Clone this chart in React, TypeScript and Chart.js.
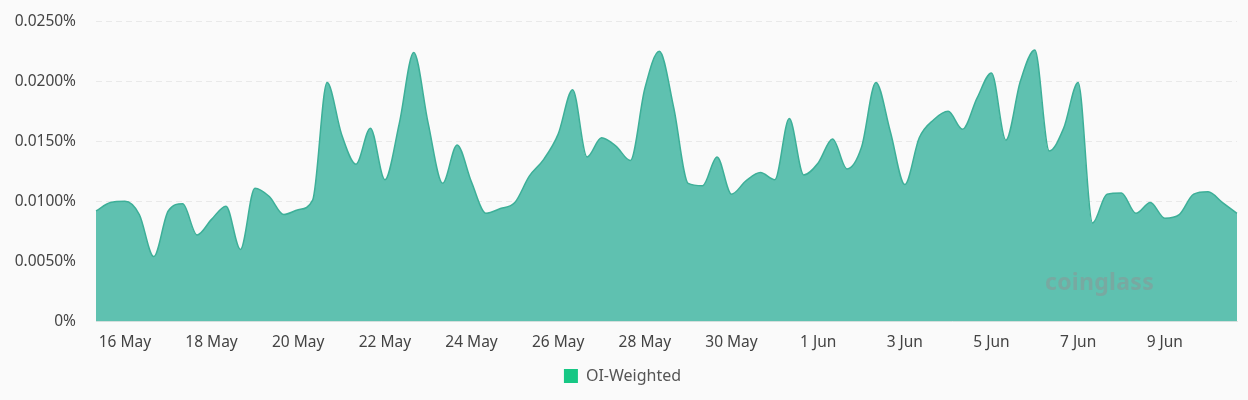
import React, { useEffect, useRef } from "react";
import { Chart, registerables } from "chart.js";

Chart.register(...registerables);

// funding rate, OI weighted, in percent, one value every 8 hours from 15 May 08:00
const fundingRates = [
    0.0092, 0.0099, 0.0100, 0.0089, 0.0054, 0.0092, 0.0098, 0.0072, 0.0085, 0.0096,
    0.0060, 0.0111, 0.0104, 0.0089, 0.0093, 0.0101, 0.0199, 0.0156, 0.0131, 0.0161,
    0.0118, 0.0165, 0.0224, 0.0165, 0.0115, 0.0147, 0.0116, 0.0090, 0.0094, 0.0099,
    0.0121, 0.0135, 0.0156, 0.0193, 0.0137, 0.0153, 0.0146, 0.0134, 0.0194, 0.0225,
    0.0178, 0.0115, 0.0113, 0.0137, 0.0106, 0.0117, 0.0124, 0.0118, 0.0169, 0.0122,
    0.0132, 0.0152, 0.0127, 0.0145, 0.0199, 0.0158, 0.0114, 0.0153, 0.0168, 0.0175,
    0.0160, 0.0186, 0.0207, 0.0151, 0.0200, 0.0226, 0.0142, 0.0161, 0.0199, 0.0082,
    0.0106, 0.0107, 0.0090, 0.0099, 0.0086, 0.0089, 0.0106, 0.0108, 0.0099, 0.0090,
];

const tickLabels = [
    "16 May", "18 May", "20 May", "22 May", "24 May", "26 May", "28 May",
    "30 May", "1 Jun", "3 Jun", "5 Jun", "7 Jun", "9 Jun",
];

const yTicks = [0, 0.005, 0.01, 0.015, 0.02, 0.025];

const months = ["Jan", "Feb", "Mar", "Apr", "May", "Jun", "Jul", "Aug", "Sep", "Oct", "Nov", "Dec"];
const startTime = Date.UTC(2024, 4, 15, 8);
const categories = fundingRates.map((_, i) => {
    const d = new Date(startTime + i * 8 * 3600 * 1000);
    const hh = String(d.getUTCHours()).padStart(2, "0");
    return `${d.getUTCDate()} ${months[d.getUTCMonth()]} ${hh}:00`;
});

const FONT = "'Noto Sans', 'Open Sans', sans-serif";

function FundingChart() {
    const canvasRef = useRef<HTMLCanvasElement | null>(null);

    useEffect(() => {
        document.body.style.background = "#fafafa";
        if (!canvasRef.current) return;
        const chart = new Chart(canvasRef.current, {
            type: "line",
            data: {
                labels: categories,
                datasets: [{
                    label: "OI-Weighted",
                    data: fundingRates,
                    borderColor: "#3daf98",
                    borderWidth: 1.5,
                    backgroundColor: "#5fc1b0",
                    fill: "origin",
                    tension: 0.4,
                    cubicInterpolationMode: "monotone",
                    pointRadius: 0,
                    pointHoverRadius: 0,
                }],
            },
            options: {
                animation: false,
                responsive: true,
                maintainAspectRatio: false,
                layout: { padding: { top: 4, right: 3, left: 0, bottom: 4 } },
                scales: {
                    x: {
                        grid: { display: false },
                        border: { display: true, color: "#e4e4e4" },
                        ticks: {
                            autoSkip: false,
                            maxRotation: 0,
                            padding: 4,
                            color: "#444",
                            font: { family: FONT, size: 15.5 },
                            callback: (_v, index) => {
                                const cat = categories[index];
                                if (!cat.endsWith("00:00")) return null;
                                const day = cat.replace(" 00:00", "");
                                return tickLabels.includes(day) ? day : null;
                            },
                        },
                    },
                    y: {
                        min: yTicks[0],
                        max: yTicks[yTicks.length - 1],
                        afterFit: (scale: any) => { scale.width = 88; },
                        afterBuildTicks: (scale: any) => {
                            scale.ticks = yTicks.map((v) => ({ value: v }));
                        },
                        grid: { color: "#e9e9e9", drawTicks: false },
                        border: { display: false, dash: [6, 4] },
                        ticks: {
                            padding: 20,
                            color: "#444",
                            font: { family: FONT, size: 15.5 },
                            callback: (v) => (Number(v) === 0 ? "0%" : Number(v).toFixed(4) + "%"),
                        },
                    },
                },
                plugins: {
                    tooltip: { enabled: false },
                    legend: {
                        position: "bottom",
                        labels: {
                            boxWidth: 14,
                            boxHeight: 14,
                            padding: 12,
                            color: "#555",
                            font: { family: FONT, size: 16 },
                            generateLabels: (c: any) => c.data.datasets.map((ds: any, i: number) => ({
                                text: ds.label,
                                fillStyle: "#16c784",
                                strokeStyle: "#16c784",
                                lineWidth: 0,
                                fontColor: "#555",
                                datasetIndex: i,
                                hidden: false,
                            })),
                        },
                    },
                },
            },
        });
        return () => chart.destroy();
    }, []);

    return (
        <div style={{ position: "relative", width: 1232, height: 384 }}>
            <div style={{ position: "absolute", left: 0, top: -16, width: 1232, height: 406 }}>
                <canvas ref={canvasRef}></canvas>
            </div>
            <div style={{
                position: "absolute", left: 1037, top: 257, fontFamily: FONT, fontWeight: 700,
                fontSize: 23, color: "rgba(140,150,150,0.55)", pointerEvents: "none", letterSpacing: 0.3,
            }}>coinglass</div>
        </div>
    );
}

export default function App() {
    return <FundingChart />;
}
